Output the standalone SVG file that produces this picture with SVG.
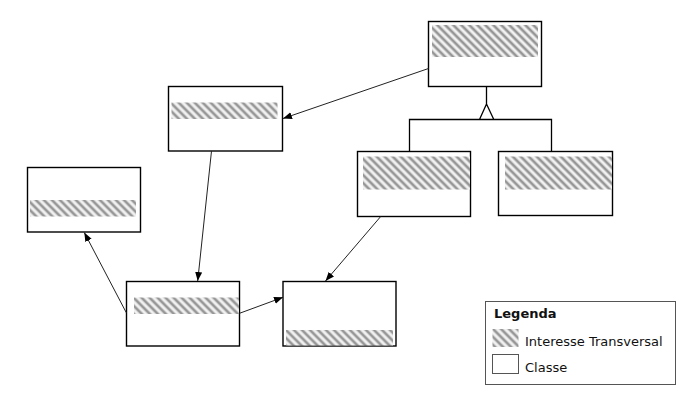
<svg xmlns="http://www.w3.org/2000/svg" width="700" height="400" viewBox="0 0 700 400">
<defs>
<linearGradient id="sg" x1="0" y1="0" x2="1" y2="0">
<stop offset="0" stop-color="#fafafa"/>
<stop offset="0.15" stop-color="#ececec"/>
<stop offset="0.5" stop-color="#7a7a7a"/>
<stop offset="0.85" stop-color="#ececec"/>
<stop offset="1" stop-color="#fafafa"/>
</linearGradient>
<pattern id="hatch" patternUnits="userSpaceOnUse" width="5.66" height="10" patternTransform="rotate(-45)">
<rect x="0" y="0" width="5.66" height="10" fill="url(#sg)"/>
</pattern>
<marker id="arr" markerUnits="userSpaceOnUse" markerWidth="10" markerHeight="8" refX="9" refY="3.5" orient="auto">
<path d="M0,0 L9,3.5 L0,7 z" fill="#000"/>
</marker>
</defs>
<style>
.box{fill:#fff;stroke:#000;stroke-width:1.4}
.h{fill:url(#hatch)}
.c{fill:none;stroke:#222;stroke-width:1;marker-end:url(#arr)}
.g{fill:none;stroke:#000;stroke-width:1.3}
.t{font-family:"DejaVu Sans",Verdana,sans-serif;font-size:13px;fill:#111}
</style>
<rect width="700" height="400" fill="#fff"/>

<g id="node-top">
<rect class="box" x="428.5" y="21.5" width="113" height="65"/>
<rect class="h" x="432" y="25" width="106" height="32"/>
</g>
<g id="node-b">
<rect class="box" x="168.5" y="86.5" width="114" height="64.5"/>
<rect class="h" x="171.5" y="102.5" width="106" height="16.5"/>
</g>
<g id="node-c">
<rect class="box" x="357.5" y="151.5" width="113" height="65"/>
<rect class="h" x="363" y="156.5" width="107" height="33"/>
</g>
<g id="node-r">
<rect class="box" x="498.5" y="151.5" width="114" height="64"/>
<rect class="h" x="505" y="156.5" width="107" height="33"/>
</g>
<g id="node-a">
<rect class="box" x="27.5" y="167.5" width="113" height="64.5"/>
<rect class="h" x="30" y="200" width="106" height="16.5"/>
</g>
<g id="node-d">
<rect class="box" x="126.5" y="281.5" width="113" height="64.5"/>
<rect class="h" x="134" y="297.5" width="105" height="16.5"/>
</g>
<g id="node-e">
<rect class="box" x="283" y="281.5" width="113" height="64.5"/>
<rect class="h" x="286" y="330" width="107" height="15.5"/>
</g>

<g id="connectors">
<line class="c" x1="428.5" y1="68.5" x2="283" y2="118.5"/>
<line class="c" x1="211.5" y1="151" x2="197.7" y2="281"/>
<line class="c" x1="380.7" y1="216.5" x2="325.5" y2="281"/>
<line class="c" x1="239.5" y1="313.3" x2="283" y2="297.3"/>
<line class="c" x1="126.3" y1="312.7" x2="84.3" y2="232.5"/>
<path class="g" d="M486.5,86.5 V104 M486.5,104 L479.5,119.5 M486.5,104 L493.8,119.5 M409.5,151.5 V119.5 H551.5 V151.5"/>
</g>

<g id="legend">
<rect x="485.5" y="301.5" width="190" height="83" fill="#fff" stroke="#555" stroke-width="1"/>
<text class="t" x="494" y="318" font-weight="bold">Legenda</text>
<rect class="h" x="492.5" y="329" width="26" height="18"/>
<text class="t" x="525" y="345.5">Interesse Transversal</text>
<rect x="492.5" y="354.5" width="26" height="19" fill="#fff" stroke="#555" stroke-width="1"/>
<text class="t" x="525" y="371.5">Classe</text>
</g>
</svg>
